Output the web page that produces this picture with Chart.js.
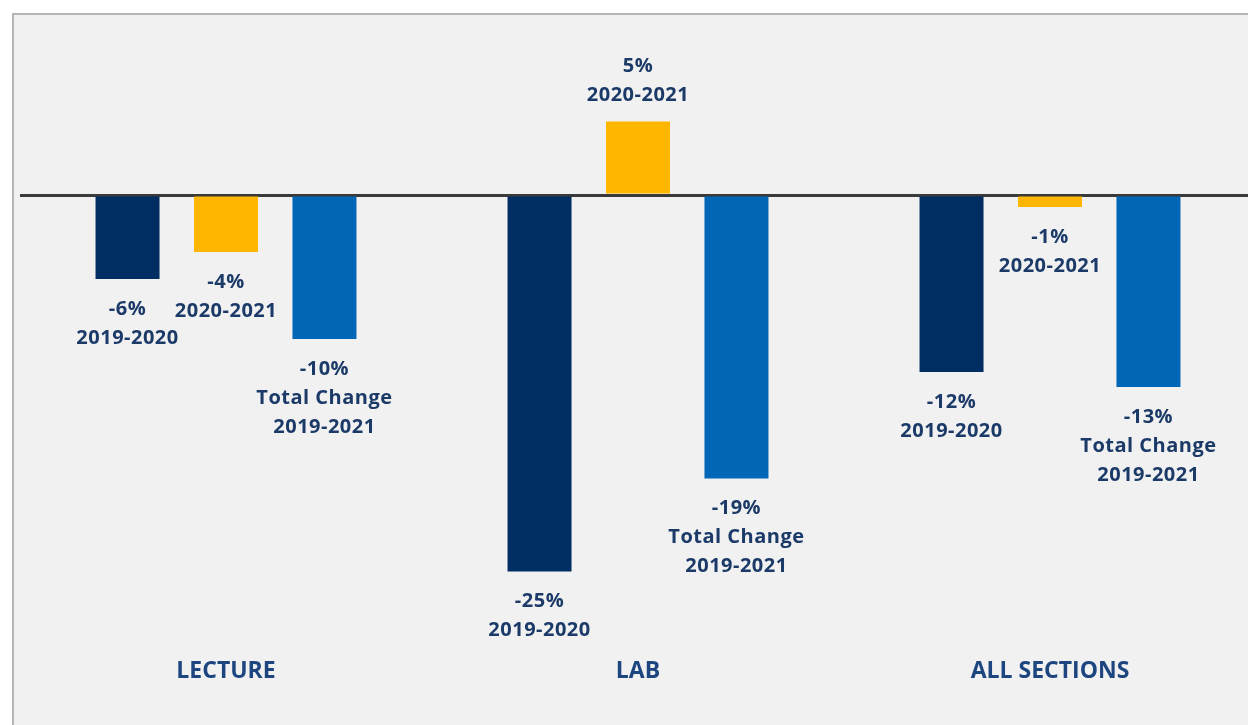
<!DOCTYPE html>
<html>
<head>
<meta charset="utf-8">
<script src="https://cdn.jsdelivr.net/npm/chart.js@4"></script>
<style>
  html, body { margin: 0; padding: 0; background: #ffffff; overflow: hidden; width: 1248px; height: 725px; }
  #panel { position: absolute; left: 12px; top: 13px; width: 1250px; height: 720px; background: #f1f1f1;
           border-left: 2px solid #b5b5b5; border-top: 2px solid #b5b5b5; }
  #wrap { position: absolute; left: 0; top: 0; width: 1260px; height: 725px; }
</style>
</head>
<body>
<div id="panel"></div>
<div id="wrap"><canvas id="c" width="1260" height="725"></canvas></div>
<script>
const categories = ["LECTURE", "LAB", "ALL SECTIONS"];
const seriesNames = ["2019-2020", "2020-2021", "Total Change 2019-2021"];
const periodLabels = [["2019-2020"], ["2020-2021"], ["Total Change", "2019-2021"]];
const change2019_2020 = [-5.6, -25.1, -11.8];
const change2020_2021 = [-3.8, 4.9, -0.8];
const totalChange2019_2021 = [-9.6, -18.9, -12.8];
const colors = ["#002d62", "#ffb600", "#0066b5"];
const textColor = "#1b3a68";

const labelPlugin = {
  id: "barLabels",
  afterDatasetsDraw(chart) {
    const ctx = chart.ctx;
    ctx.save();
    ctx.font = "bold 20px 'Open Sans', sans-serif";
    if ("letterSpacing" in ctx) ctx.letterSpacing = "0.5px";
    ctx.fillStyle = textColor;
    ctx.textAlign = "center";
    ctx.textBaseline = "middle";
    chart.data.datasets.forEach((ds, di) => {
      const meta = chart.getDatasetMeta(di);
      meta.data.forEach((bar, i) => {
        const v = ds.data[i];
        const lines = [Math.round(v) + "%"].concat(periodLabels[di]);
        const lh = 29;
        if (v < 0) {
          lines.forEach((t, k) => ctx.fillText(t, bar.x, bar.y + 30 + k * lh));
        } else {
          const n = lines.length;
          lines.forEach((t, k) => ctx.fillText(t, bar.x, bar.y - 26 - (n - 1 - k) * lh));
        }
      });
    });
    ctx.restore();
  }
};

new Chart(document.getElementById("c"), {
  type: "bar",
  data: {
    labels: categories,
    datasets: [
      { label: seriesNames[0], data: change2019_2020, backgroundColor: colors[0] },
      { label: seriesNames[1], data: change2020_2021, backgroundColor: colors[1] },
      { label: seriesNames[2], data: totalChange2019_2021, backgroundColor: colors[2] }
    ]
  },
  options: {
    responsive: false,
    animation: false,
    categoryPercentage: 0.717,
    barPercentage: 0.65,
    layout: { padding: { left: 20, right: 4, top: 15, bottom: 0 } },
    plugins: { legend: { display: false }, tooltip: { enabled: false } },
    scales: {
      x: {
        grid: { display: false, drawTicks: false },
        border: { display: false },
        ticks: { color: "#1d4580", padding: 8, font: { family: "'Open Sans', sans-serif", size: 23, weight: "bold" } },
        afterFit: s => { s.height = 75; }
      },
      y: {
        min: -30.33,
        max: 12,
        afterBuildTicks: s => { s.ticks = [{ value: 0 }]; },
        afterFit: s => { s.width = 0; },
        ticks: { display: false },
        border: { display: false },
        grid: { color: "#3a3a3a", lineWidth: 3, drawTicks: false }
      }
    }
  },
  plugins: [labelPlugin]
});
</script>
</body>
</html>
